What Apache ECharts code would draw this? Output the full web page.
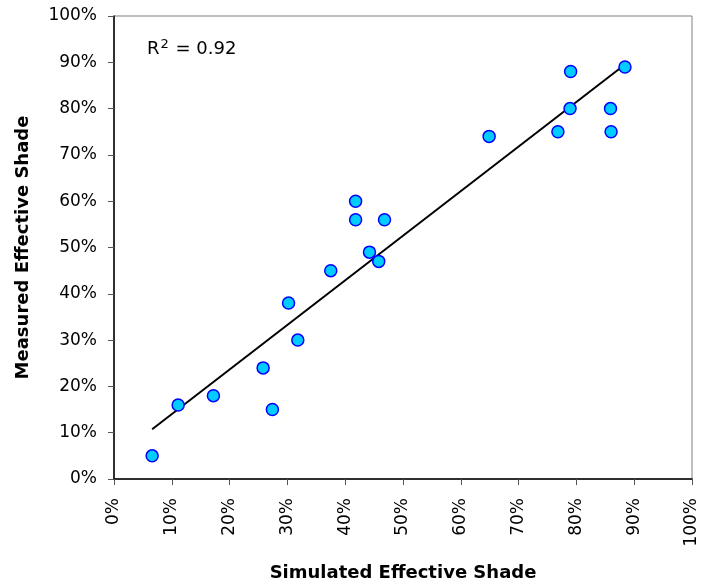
<!DOCTYPE html>
<html><head><meta charset="utf-8">
<script src="https://cdn.jsdelivr.net/npm/echarts@6/dist/echarts.min.js"></script>
<style>html,body{margin:0;padding:0;background:#fff}#c{width:702px;height:587px}</style>
</head><body><div id="c"></div>
<script>
var simulated = [6.6, 11.1, 17.2, 25.8, 27.4, 30.2, 31.8, 37.5, 41.8, 41.8, 44.2, 45.8, 46.8, 64.9, 76.8, 79.0, 78.9, 85.9, 86.0, 88.4];
var measured  = [5, 16, 18, 24, 15, 38, 30, 45, 60, 56, 49, 47, 56, 74, 75, 88, 80, 80, 75, 89];
var rSquaredText = '0.92';
var xTitle = 'Simulated Effective Shade';
var yTitle = 'Measured Effective Shade';

var pts = simulated.map(function (x, i) { return [x, measured[i]]; });
// least-squares trend line
var n = simulated.length, sx = 0, sy = 0, sxx = 0, sxy = 0;
for (var i = 0; i < n; i++) { sx += simulated[i]; sy += measured[i]; sxx += simulated[i]*simulated[i]; sxy += simulated[i]*measured[i]; }
var slope = (n*sxy - sx*sy) / (n*sxx - sx*sx);
var icpt = (sy - slope*sx) / n;
var xmin = Math.min.apply(null, simulated), xmax = Math.max.apply(null, simulated);
var trend = [[xmin, icpt + slope*xmin], [xmax, icpt + slope*xmax]];

var font = '"DejaVu Sans", "Liberation Sans", Arial, sans-serif';
var chart = echarts.init(document.getElementById('c'));
chart.setOption({
  animation: false,
  grid: { left: 114, top: 16, width: 578, height: 463, show: true, borderColor: '#808080', borderWidth: 1 },
  xAxis: {
    type: 'value', min: 0, max: 100, interval: 10,
    name: xTitle, nameLocation: 'middle', nameGap: 85,
    nameTextStyle: { fontFamily: font, fontSize: 18, fontWeight: 'bold', color: '#000' },
    axisLine: { lineStyle: { color: '#000', width: 1.5 } },
    axisTick: { show: true, length: 6, lineStyle: { color: '#555' } },
    axisLabel: { rotate: 90, margin: 19, fontFamily: font, fontSize: 17, color: '#000', formatter: '{value}%' },
    splitLine: { show: false }
  },
  yAxis: {
    type: 'value', min: 0, max: 100, interval: 10,
    name: yTitle, nameLocation: 'middle', nameGap: 82,
    nameTextStyle: { fontFamily: font, fontSize: 18, fontWeight: 'bold', color: '#000' },
    axisLine: { lineStyle: { color: '#000', width: 1.5 } },
    axisTick: { show: true, length: 6, lineStyle: { color: '#555' } },
    axisLabel: { margin: 17, fontFamily: font, fontSize: 17, color: '#000', formatter: '{value}%' },
    splitLine: { show: false }
  },
  series: [
    { type: 'line', data: trend, symbol: 'none', lineStyle: { color: '#000', width: 2 }, z: 3 },
    { type: 'scatter', data: pts, symbol: 'circle', symbolSize: 12,
      itemStyle: { color: '#00CCFF', borderColor: '#0000FF', borderWidth: 1.5, opacity: 1 }, z: 4 }
  ],
  graphic: [{
    type: 'text', left: 147, top: 38,
    style: {
      text: 'R{sup|2} = ' + rSquaredText,
      font: '18px ' + font, fill: '#000',
      rich: { sup: { fontSize: 13, fontFamily: font, verticalAlign: 'top', padding: [0, 1, 9, 1] } }
    }
  }]
});
</script></body></html>
